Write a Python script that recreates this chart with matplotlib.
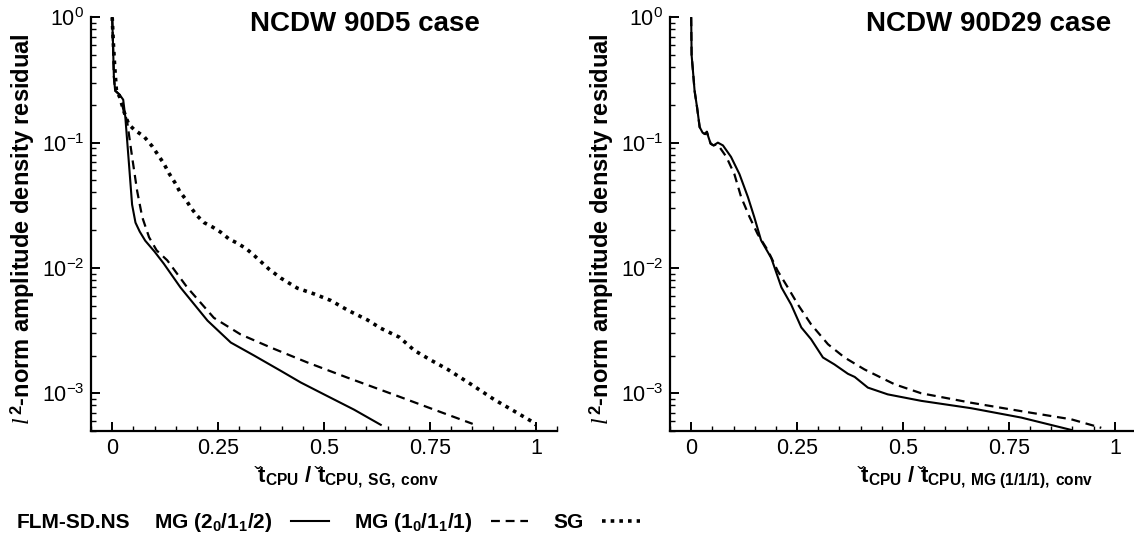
import numpy as np
import matplotlib
matplotlib.use("Agg")
import matplotlib.pyplot as plt
from matplotlib.ticker import MultipleLocator, LogLocator, NullFormatter

plt.rcParams['font.family'] = ['Liberation Sans', 'DejaVu Sans']
plt.rcParams['mathtext.fontset'] = 'custom'
plt.rcParams['mathtext.rm'] = 'Liberation Sans'
plt.rcParams['mathtext.it'] = 'Liberation Serif:italic'
plt.rcParams['mathtext.bf'] = 'Liberation Sans:bold'
plt.rcParams['axes.unicode_minus'] = False

# ---- NCDW 90D5 case (x: t_CPU / t_CPU,SG,conv) ----
d5_mg212_t = [0, 0.002, 0.004, 0.007, 0.018, 0.026, 0.031, 0.039, 0.047, 0.055,
              0.065, 0.078, 0.100, 0.122, 0.161, 0.225, 0.28, 0.335, 0.398, 0.445,
              0.50, 0.571, 0.634]
d5_mg212_r = [1.0, 0.6, 0.335, 0.26, 0.24, 0.22, 0.16, 0.072, 0.032, 0.023,
              0.0195, 0.0165, 0.0135, 0.0108, 0.0070, 0.0038, 0.00254, 0.0020, 0.00151, 0.00122,
              0.00098, 0.00074, 0.00056]

d5_mg111_t = [0, 0.002, 0.004, 0.007, 0.018, 0.027, 0.035, 0.047, 0.059, 0.071,
              0.087, 0.105, 0.13, 0.177, 0.24, 0.303, 0.374, 0.461, 0.556, 0.674,
              0.76, 0.851]
d5_mg111_r = [1.0, 0.6, 0.335, 0.26, 0.24, 0.18, 0.15, 0.077, 0.041, 0.0254,
              0.0176, 0.0138, 0.0115, 0.0070, 0.0040, 0.00295, 0.00232, 0.00176, 0.00133, 0.00095,
              0.00074, 0.00057]

d5_sg_t = [0, 0.003, 0.006, 0.01, 0.018, 0.028, 0.039, 0.053, 0.075, 0.095,
           0.108, 0.122, 0.134, 0.148, 0.159, 0.173, 0.185, 0.201, 0.217, 0.238,
           0.256, 0.276, 0.295, 0.317, 0.336, 0.37, 0.398, 0.437, 0.477, 0.516,
           0.556, 0.603, 0.634, 0.678, 0.713, 0.752, 0.792, 0.847, 0.902, 0.949,
           0.989, 1.0]
d5_sg_r = [1.0, 0.6, 0.4, 0.26, 0.23, 0.176, 0.14, 0.126, 0.112, 0.093,
           0.080, 0.068, 0.057, 0.048, 0.041, 0.0355, 0.0305, 0.026, 0.023, 0.0211,
           0.0193, 0.017, 0.0158, 0.0142, 0.0125, 0.0098, 0.0083, 0.0069, 0.0062, 0.0055,
           0.0046, 0.00384, 0.0033, 0.0028, 0.0022, 0.00184, 0.00155, 0.00118, 0.00089, 0.00072,
           0.0006, 0.00056]

# ---- NCDW 90D29 case (x: t_CPU / t_CPU,MG(1/1/1),conv) ----
d29_mg212_t = [0, 0.001, 0.004, 0.008, 0.014, 0.02, 0.027, 0.033, 0.037, 0.041,
               0.046, 0.053, 0.063, 0.075, 0.094, 0.114, 0.134, 0.149, 0.165, 0.189,
               0.213, 0.236, 0.26, 0.283, 0.311, 0.338, 0.37, 0.386, 0.417, 0.464,
               0.543, 0.661, 0.779, 0.897]
d29_mg212_r = [1.0, 0.5, 0.38, 0.26, 0.19, 0.133, 0.12, 0.117, 0.122, 0.11,
               0.098, 0.095, 0.10, 0.095, 0.077, 0.056, 0.0367, 0.0254, 0.0166, 0.012,
               0.0070, 0.0051, 0.00335, 0.0027, 0.00193, 0.0017, 0.00143, 0.00135, 0.00111, 0.00098,
               0.00087, 0.00076, 0.00064, 0.00051]

d29_mg111_t = [0, 0.001, 0.004, 0.008, 0.014, 0.02, 0.027, 0.033, 0.037, 0.041,
               0.046, 0.053, 0.06, 0.067, 0.083, 0.102, 0.118, 0.138, 0.157, 0.181,
               0.204, 0.228, 0.252, 0.283, 0.323, 0.362, 0.409, 0.48, 0.543, 0.661,
               0.779, 0.897, 0.968]
d29_mg111_r = [1.0, 0.5, 0.38, 0.26, 0.19, 0.133, 0.12, 0.117, 0.122, 0.11,
               0.098, 0.095, 0.097, 0.092, 0.077, 0.056, 0.0367, 0.0254, 0.0186, 0.0138,
               0.0095, 0.0070, 0.0051, 0.00355, 0.00246, 0.00193, 0.00155, 0.00118, 0.001, 0.00084,
               0.00072, 0.00062, 0.00053]

x_ticks = [0, 0.25, 0.5, 0.75, 1]
x_tick_labels = ['0', '0.25', '0.5', '0.75', '1']

W, H = 1134, 548
fig = plt.figure(figsize=(W / 100, H / 100), dpi=100)


def px_axes(x0, x1, y0, y1):
    return fig.add_axes([x0 / W, 1 - y1 / H, (x1 - x0) / W, (y1 - y0) / H])


ax1 = px_axes(91, 557, 17.3, 431)
ax2 = px_axes(670, 1136, 17.3, 431)

solid = dict(color='black', lw=1.5, ls='-')
dashed = dict(color='black', lw=1.6, ls=(0, (4, 2.6)))
dotted = dict(color='black', lw=2.6, ls=(0, (1, 1.4)), dash_capstyle='butt')

h1, = ax1.plot(d5_mg212_t, d5_mg212_r, **solid)
h2, = ax1.plot(d5_mg111_t, d5_mg111_r, **dashed)
h3, = ax1.plot(d5_sg_t, d5_sg_r, **dotted)
ax2.plot(d29_mg212_t, d29_mg212_r, **solid)
ax2.plot(d29_mg111_t, d29_mg111_r, **dashed)

for ax in (ax1, ax2):
    ax.set_yscale('log')
    ax.set_ylim(5e-4, 1.0)
    ax.set_xlim(-0.05, 1.05)
    for s in ('top', 'right'):
        ax.spines[s].set_visible(False)
    for s in ('left', 'bottom'):
        ax.spines[s].set_linewidth(1.6)
    ax.set_xticks(x_ticks)
    ax.set_xticklabels(x_tick_labels)
    ax.xaxis.set_minor_locator(MultipleLocator(0.05))
    ax.yaxis.set_major_locator(LogLocator(base=10, numticks=10))
    ax.yaxis.set_minor_locator(LogLocator(base=10, subs=np.arange(2, 10), numticks=10))
    ax.yaxis.set_minor_formatter(NullFormatter())
    ax.tick_params(which='major', direction='in', length=6.5, width=1.4,
                   labelsize=15.5, pad=5)
    ax.tick_params(which='minor', direction='in', length=3.6, width=1.0)
    ax.set_ylabel(r'$\mathit{l}^{\,\mathbf{2}}$-norm amplitude density residual',
                  fontsize=17, fontweight='bold')
    ax.yaxis.set_label_coords(-0.115, 0.488)

ax1.set_xlabel(r'$\check{\mathbf{t}}_{\mathbf{CPU}}$ / '
               r'$\check{\mathbf{t}}_{\mathbf{CPU,\ SG,\ conv}}$',
               fontsize=16, fontweight='bold', va='top')
ax1.xaxis.set_label_coords(0.549, -0.082)
ax2.set_xlabel(r'$\check{\mathbf{t}}_{\mathbf{CPU}}$ / '
               r'$\check{\mathbf{t}}_{\mathbf{CPU,\ MG\ (1/1/1),\ conv}}$',
               fontsize=16, fontweight='bold', va='top')
ax2.xaxis.set_label_coords(0.655, -0.082)

fig.text(480 / W, 1 - 24 / H, 'NCDW 90D5 case', ha='right', va='center',
         fontsize=20, fontweight='bold')
fig.text(1111 / W, 1 - 24 / H, 'NCDW 90D29 case', ha='right', va='center',
         fontsize=20, fontweight='bold')

# bottom legend row
fig.text(17 / W, 1 - 523 / H, 'FLM-SD.NS', ha='left', va='center',
         fontsize=15, fontweight='bold')
labels = [r'MG (2$_\mathbf{0}$/1$_\mathbf{1}$/2)',
          r'MG (1$_\mathbf{0}$/1$_\mathbf{1}$/1)',
          'SG']
fig.legend([h1, h2, h3], labels, loc='center left',
           bbox_to_anchor=(154 / W, 1 - 523 / H), ncol=3, frameon=False,
           markerfirst=False, handlelength=1.8, handletextpad=0.9,
           columnspacing=1.2, borderaxespad=0, borderpad=0,
           prop={'size': 15, 'weight': 'bold'})

fig.savefig('out.png', dpi=100)
